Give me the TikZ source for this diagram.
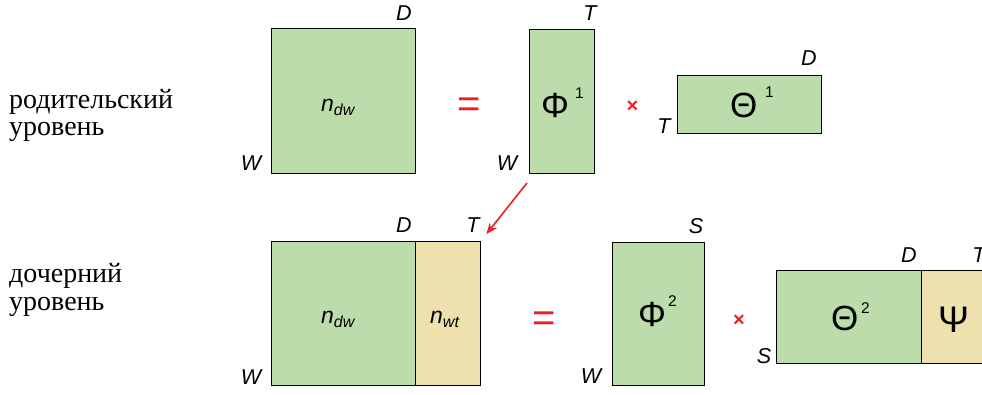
\documentclass[tikz,border=0pt]{standalone}
\usepackage{fontspec}
\setmainfont{Liberation Serif}
\newfontfamily\lsans{Liberation Sans}
\usetikzlibrary{arrows.meta,calc}
\definecolor{mgreen}{RGB}{189,220,172}
\definecolor{mtan}{RGB}{238,225,174}
\definecolor{mred}{RGB}{235,30,35}
\tikzset{
  gbox/.style={draw=black, line width=1.4pt, fill=mgreen, inner sep=0pt, anchor=north west},
  tbox/.style={draw=black, line width=1.4pt, fill=mtan, inner sep=0pt, anchor=north west},
  lbl/.style={font=\lsans\itshape\fontsize{21.5}{21.5}\selectfont, inner sep=0pt, anchor=base},
  gr/.style={font=\lsans\fontsize{35}{35}\selectfont, inner sep=0pt, anchor=base west},
  sup/.style={font=\lsans\fontsize{15.5}{15.5}\selectfont, inner sep=0pt, anchor=base west},
  mat/.style={font=\lsans\itshape\fontsize{23}{23}\selectfont, inner sep=0pt, anchor=base west},
  rus/.style={font=\fontsize{28}{28}\selectfont, inner sep=0pt, anchor=base west},
  eqs/.style={font=\lsans\fontsize{40}{40}\selectfont, text=mred, inner sep=0pt, anchor=base},
  tms/.style={font=\lsans\bfseries\fontsize{20}{20}\selectfont, text=mred, inner sep=0pt, anchor=base},
  redarrow/.style={draw=mred, line width=1.6pt, -{Stealth[length=11pt,width=9pt]}}
}
\newcommand{\subr}[1]{\raisebox{-4pt}{\fontsize{16}{16}\selectfont #1}}
\begin{document}
\begin{tikzpicture}[x=1pt,y=-1pt]
\useasboundingbox (0,0) rectangle (982,394);
% russian labels
\node[rus] (r1) at (9,108) {родительский};
\node[rus] (r2) at (9,135) {уровень};
\node[rus] (r3) at (9,282) {дочерний};
\node[rus] (r4) at (9,310) {уровень};
% top row
\node[gbox, minimum width=144pt, minimum height=145pt] (ndw1) at (271,28) {};
\node[mat] (ndw1t) at (321,111) {n\subr{dw}};
\node[lbl] (D1) at (404,20) {D};
\node[lbl] (W1) at (251,170) {W};
\node[eqs] (eq1) at (469,117) {=};
\node[gbox, minimum width=65pt, minimum height=144pt] (phi1) at (529,29) {};
\node[gr] (phi1t) at (541,117) {Φ};
\node[sup] (phi1s) at (575,98) {1};
\node[lbl] (T1) at (590,20) {T};
\node[lbl] (W2) at (507,170) {W};
\node[tms] (x1) at (632.5,112) {×};
\node[gbox, minimum width=144pt, minimum height=58pt] (th1) at (677,75) {};
\node[gr] (th1t) at (730,117) {Θ};
\node[sup] (th1s) at (765,97) {1};
\node[lbl] (D2) at (809,65) {D};
\node[lbl] (T2) at (664,133) {T};
% bottom row
\node[gbox, minimum width=144pt, minimum height=144pt] (ndw2) at (271,241) {};
\node[mat] (ndw2t) at (321,323) {n\subr{dw}};
\node[tbox, minimum width=65pt, minimum height=144pt] (nwt) at (415,241) {};
\node[mat] (nwtt) at (430,323) {n\subr{wt}};
\node[lbl] (D3) at (404,232) {D};
\node[lbl] (T3) at (473,232) {T};
\node[lbl] (W3) at (251,384) {W};
\node[eqs] (eq2) at (544.5,331) {=};
\node[gbox, minimum width=92pt, minimum height=143pt] (phi2) at (612,242) {};
\node[gr] (phi2t) at (638,326) {Φ};
\node[sup] (phi2s) at (668,306) {2};
\node[lbl] (S1) at (696,233) {S};
\node[lbl] (W4) at (591,383) {W};
\node[tms] (x2) at (739,326) {×};
\node[gbox, minimum width=145pt, minimum height=93pt] (th2) at (776,270) {};
\node[gr] (th2t) at (831,330) {Θ};
\node[sup] (th2s) at (861,313) {2};
\node[tbox, minimum width=70pt, minimum height=93pt] (psi) at (921,270) {};
\node[gr, font=\lsans\fontsize{37}{37}\selectfont] (psit) at (938,332) {Ψ};
\node[lbl] (D4) at (909,262) {D};
\node[lbl] (T4) at (979,262) {T};
\node[lbl] (S2) at (764,363) {S};
% arrow
\coordinate (astart) at (527,183);
\draw[redarrow] (astart) -- ([shift={(5,-7)}]nwt.north east);
\end{tikzpicture}
\end{document}
